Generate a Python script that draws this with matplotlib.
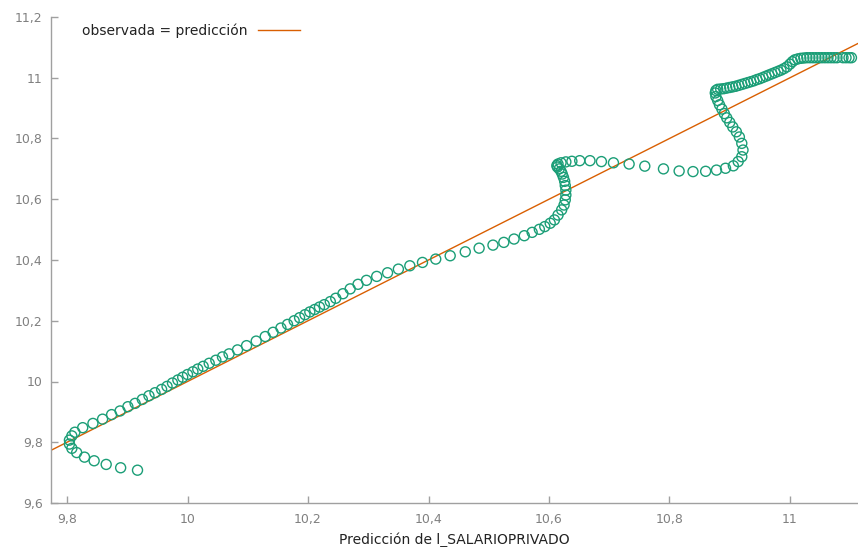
import matplotlib
matplotlib.use("Agg")
import matplotlib.pyplot as plt
from matplotlib.ticker import FixedLocator, FuncFormatter

# ---- data ----
pred_tail = [9.917, 9.889, 9.865, 9.845, 9.829, 9.816, 9.808, 9.804, 9.804, 9.808, 9.813]
obs_tail = [9.708, 9.716, 9.727, 9.739, 9.751, 9.766, 9.780, 9.794, 9.807, 9.821, 9.833]

pred_low = [9.826, 9.843, 9.859, 9.874, 9.888, 9.901, 9.913, 9.925, 9.936, 9.946,
            9.957, 9.966, 9.975, 9.984, 9.992, 10.000, 10.009, 10.017, 10.026, 10.036,
            10.047, 10.058, 10.069, 10.083, 10.098, 10.114, 10.129, 10.142, 10.155, 10.166,
            10.177, 10.186, 10.195, 10.203, 10.211, 10.219, 10.227, 10.237, 10.246, 10.258,
            10.270, 10.283, 10.297, 10.314, 10.332, 10.350, 10.369, 10.390, 10.412, 10.436,
            10.461, 10.484, 10.507, 10.525, 10.542, 10.559, 10.572, 10.584, 10.593, 10.602,
            10.609, 10.615, 10.621, 10.625]
obs_low = [9.848, 9.862, 9.876, 9.891, 9.903, 9.917, 9.928, 9.941, 9.953, 9.963,
           9.974, 9.984, 9.995, 10.005, 10.014, 10.023, 10.032, 10.041, 10.050, 10.060,
           10.070, 10.081, 10.091, 10.104, 10.118, 10.133, 10.148, 10.162, 10.176, 10.188,
           10.200, 10.210, 10.220, 10.229, 10.237, 10.245, 10.253, 10.263, 10.274, 10.289,
           10.305, 10.320, 10.333, 10.346, 10.358, 10.370, 10.381, 10.392, 10.403, 10.414,
           10.427, 10.439, 10.449, 10.458, 10.469, 10.480, 10.491, 10.501, 10.510, 10.521,
           10.532, 10.548, 10.565, 10.581]

pred_s1 = [10.627, 10.628, 10.628, 10.627, 10.626, 10.624, 10.622, 10.620, 10.617, 10.614,
           10.613, 10.615, 10.620, 10.628, 10.638]
obs_s1 = [10.598, 10.614, 10.630, 10.645, 10.659, 10.672, 10.683, 10.692, 10.700, 10.706,
          10.711, 10.716, 10.720, 10.723, 10.725]

pred_mid = [10.651, 10.668, 10.687, 10.707, 10.733, 10.759, 10.790, 10.816, 10.839, 10.860,
            10.878, 10.893, 10.906, 10.914, 10.920, 10.922, 10.920]
obs_mid = [10.727, 10.727, 10.724, 10.720, 10.716, 10.709, 10.700, 10.693, 10.691, 10.692,
           10.696, 10.702, 10.710, 10.724, 10.740, 10.762, 10.784]

pred_s2 = [10.916, 10.911, 10.905, 10.900, 10.895, 10.891, 10.887, 10.883, 10.880, 10.877,
           10.876, 10.877, 10.880]
obs_s2 = [10.805, 10.822, 10.838, 10.853, 10.868, 10.882, 10.897, 10.911, 10.925, 10.938,
          10.950, 10.958, 10.962]

pred_top = [10.885, 10.890, 10.895, 10.900, 10.905, 10.910, 10.915, 10.920, 10.925, 10.930,
            10.935, 10.940, 10.945, 10.950, 10.955, 10.960, 10.965, 10.970, 10.975, 10.980,
            10.985, 10.990, 10.995, 11.000, 11.004, 11.008,
            11.013, 11.018, 11.023, 11.028, 11.033, 11.038, 11.043, 11.048, 11.053, 11.058,
            11.063, 11.068, 11.073, 11.078, 11.088, 11.093, 11.098, 11.102]
obs_top = [10.963, 10.964, 10.966, 10.968, 10.970, 10.972, 10.975, 10.978, 10.981, 10.984,
           10.987, 10.990, 10.994, 10.997, 11.001, 11.005, 11.009, 11.013, 11.017, 11.021,
           11.025, 11.030, 11.036, 11.045, 11.053, 11.059,
           11.062, 11.064, 11.065, 11.066, 11.066, 11.066, 11.066, 11.066, 11.066, 11.066,
           11.066, 11.066, 11.066, 11.066, 11.066, 11.066, 11.066, 11.066]

prediccion = pred_tail + pred_low + pred_s1 + pred_mid + pred_s2 + pred_top
observada = obs_tail + obs_low + obs_s1 + obs_mid + obs_s2 + obs_top

x_ticks = [9.8, 10.0, 10.2, 10.4, 10.6, 10.8, 11.0]
y_ticks = [9.6, 9.8, 10.0, 10.2, 10.4, 10.6, 10.8, 11.0, 11.2]
x_range = (9.7734, 11.1129)
y_range = (9.6, 11.2)

# ---- figure ----
W, H = 858, 547
fig = plt.figure(figsize=(W / 100, H / 100), dpi=100)
ax = fig.add_axes([51 / W, (H - 503) / H, (W - 51) / W, (503 - 17) / H])

green = "#1b9e77"
orange = "#d95f02"

ax.scatter(prediccion, observada, s=52, facecolors="none", edgecolors=green,
           linewidths=1.0, zorder=3)
line, = ax.plot(list(x_range), list(x_range), color=orange, lw=1.0, zorder=2,
                label="observada = predicción")

ax.set_xlim(*x_range)
ax.set_ylim(*y_range)

def comma(v, pos):
    s = f"{v:.1f}"
    if s.endswith(".0"):
        s = s[:-2]
    return s.replace(".", ",")

ax.xaxis.set_major_locator(FixedLocator(x_ticks))
ax.yaxis.set_major_locator(FixedLocator(y_ticks))
ax.xaxis.set_major_formatter(FuncFormatter(comma))
ax.yaxis.set_major_formatter(FuncFormatter(comma))

for s in ["top", "right"]:
    ax.spines[s].set_visible(False)
for s in ["left", "bottom"]:
    ax.spines[s].set_color("#a0a0a0")
    ax.spines[s].set_linewidth(1.0)

ax.tick_params(direction="in", length=5, width=1, color="#a0a0a0",
               labelcolor="#808080", labelsize=9, pad=7)
ax.tick_params(axis="y", pad=6)

ax.set_xlabel("Predicción de l_SALARIOPRIVADO", fontsize=10, color="#222222",
              labelpad=5)

leg = ax.legend(handles=[line], loc="center left",
                bbox_to_anchor=(69 / W, (H - 31) / H), bbox_transform=fig.transFigure,
                frameon=False, markerfirst=False, fontsize=10, handlelength=3.0,
                handletextpad=0.8)
for t in leg.get_texts():
    t.set_color("#222222")

fig.savefig("out.png", dpi=100)
